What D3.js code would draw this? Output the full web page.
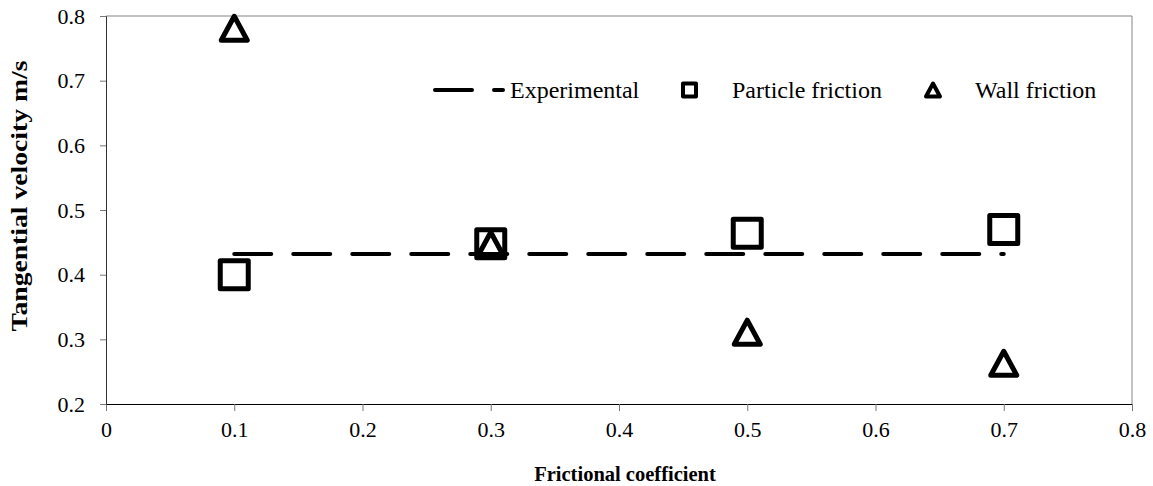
<!DOCTYPE html>
<html>
<head>
<meta charset="utf-8">
<script src="https://cdn.jsdelivr.net/npm/d3@7"></script>
<style>
  body { margin: 0; background: #fff; }
  svg text { font-family: "Liberation Serif", "Times New Roman", Times, serif; fill: #000; }
</style>
</head>
<body>
<div id="chart"></div>
<script>
// data
let coeffs = [0.1, 0.3, 0.5, 0.7];
let particleFriction = [0.40, 0.448, 0.464, 0.470];
let wallFriction = [0.781, 0.447, 0.311, 0.263];
let experimental = [0.432, 0.432];
let experimentalRange = [0.1, 0.7];
let xTicks = [0, 0.1, 0.2, 0.3, 0.4, 0.5, 0.6, 0.7, 0.8];
let yTicks = [0.2, 0.3, 0.4, 0.5, 0.6, 0.7, 0.8];

let serif = "'Liberation Serif', 'Times New Roman', Times, serif";

let margin = {top: 16, right: 21, bottom: 82, left: 106},
    width = 1153 - margin.left - margin.right,
    height = 486 - margin.top - margin.bottom;

let svg = d3.select("#chart")
            .append("svg")
            .attr("width", 1153)
            .attr("height", 486)
            .append("g")
            .attr("transform", "translate(" + margin.left + "," + margin.top + ")");

let x = d3.scaleLinear().domain([0, 0.8]).range([0, width]);
let y = d3.scaleLinear().domain([0.2, 0.8]).range([height, 0]);

// frame: top and right are lighter
svg.append("line").attr("x1", 0).attr("x2", width).attr("y1", 0).attr("y2", 0)
   .attr("stroke", "#858585").attr("stroke-width", 1);
svg.append("line").attr("x1", width).attr("x2", width).attr("y1", 0).attr("y2", height)
   .attr("stroke", "#858585").attr("stroke-width", 1);

let xAxis = svg.append("g")
    .attr("transform", "translate(0," + height + ")")
    .call(d3.axisBottom(x).tickValues(xTicks).tickSize(7).tickPadding(10)
            .tickFormat(function(d) { return d === 0 ? "0" : d3.format(".1f")(d); }));
xAxis.attr("font-family", serif).attr("font-size", 22);
xAxis.select(".domain").attr("stroke", "#000");
xAxis.selectAll(".tick line").attr("stroke", "#777");
xAxis.selectAll("text").style("font-size", "22px").style("font-family", serif);

let yAxis = svg.append("g")
    .call(d3.axisLeft(y).tickValues(yTicks).tickSize(6).tickPadding(15)
            .tickFormat(d3.format(".1f")));
yAxis.attr("font-family", serif).attr("font-size", 22);
yAxis.select(".domain").attr("stroke", "#333");
yAxis.selectAll(".tick line").attr("stroke", "#777");
yAxis.selectAll("text").style("font-size", "22px").style("font-family", serif);

// experimental line
svg.append("path")
   .datum(experimentalRange.map(function(c, i) { return {x: c, v: experimental[i]}; }))
   .attr("fill", "none")
   .attr("stroke", "#000")
   .attr("stroke-width", 4)
   .attr("stroke-linecap", "round")
   .attr("stroke-dasharray", "37,22")
   .attr("d", d3.line()
       .x(function(d) { return x(d.x) })
       .y(function(d) { return y(d.v) }));

// particle friction squares
let sq = 28;
svg.append("g")
   .selectAll("rect")
   .data(coeffs.map(function(c, i) { return {x: c, v: particleFriction[i]}; }))
   .enter()
   .append("rect")
   .attr("x", function(d) { return x(d.x) - sq / 2 })
   .attr("y", function(d) { return y(d.v) - sq / 2 })
   .attr("width", sq)
   .attr("height", sq)
   .attr("fill", "none")
   .attr("stroke", "#000")
   .attr("stroke-width", 5)
   .attr("stroke-linejoin", "round");

// wall friction triangles
function tri(cx, cy, w, h) {
    return "M" + cx + "," + (cy - h / 2) + "L" + (cx + w / 2) + "," + (cy + h / 2) +
           "L" + (cx - w / 2) + "," + (cy + h / 2) + "Z";
}
svg.append("g")
   .selectAll("path")
   .data(coeffs.map(function(c, i) { return {x: c, v: wallFriction[i]}; }))
   .enter()
   .append("path")
   .attr("d", function(d) { return tri(x(d.x), y(d.v), 26, 24) })
   .attr("fill", "none")
   .attr("stroke", "#000")
   .attr("stroke-width", 5)
   .attr("stroke-linejoin", "round");

// legend
let lg = svg.append("g").attr("transform", "translate(0,74)");
lg.append("line")
  .attr("x1", 329).attr("x2", 397).attr("y1", 0).attr("y2", 0)
  .attr("stroke", "#000").attr("stroke-width", 4)
  .attr("stroke-linecap", "round")
  .attr("stroke-dasharray", "37,22");
lg.append("text").attr("x", 404).attr("y", 0).attr("dy", "0.35em")
  .style("font-size", "24px").style("font-family", serif).text("Experimental");
lg.append("rect")
  .attr("x", 577).attr("y", -6.5).attr("width", 13).attr("height", 13)
  .attr("fill", "none").attr("stroke", "#000").attr("stroke-width", 4)
  .attr("stroke-linejoin", "round");
lg.append("text").attr("x", 626).attr("y", 0).attr("dy", "0.35em")
  .style("font-size", "24px").style("font-family", serif).text("Particle friction");
lg.append("path")
  .attr("d", tri(827, 0, 14, 13))
  .attr("fill", "none").attr("stroke", "#000").attr("stroke-width", 4)
  .attr("stroke-linejoin", "round");
lg.append("text").attr("x", 869).attr("y", 0).attr("dy", "0.35em")
  .style("font-size", "24px").style("font-family", serif).text("Wall friction");

// axis titles
svg.append("text")
   .attr("text-anchor", "middle")
   .attr("x", width / 2 + 6)
   .attr("y", height + 77)
   .style("font-size", "20.5px")
   .style("font-family", serif)
   .style("font-weight", "bold")
   .text("Frictional coefficient");

svg.append("text")
   .attr("text-anchor", "middle")
   .attr("transform", "rotate(-90)")
   .attr("x", -180)
   .attr("y", -margin.left + 27)
   .attr("textLength", 271)
   .attr("lengthAdjust", "spacingAndGlyphs")
   .style("font-size", "23px")
   .style("font-family", serif)
   .style("font-weight", "bold")
   .text("Tangential velocity m/s");
</script>
</body>
</html>
